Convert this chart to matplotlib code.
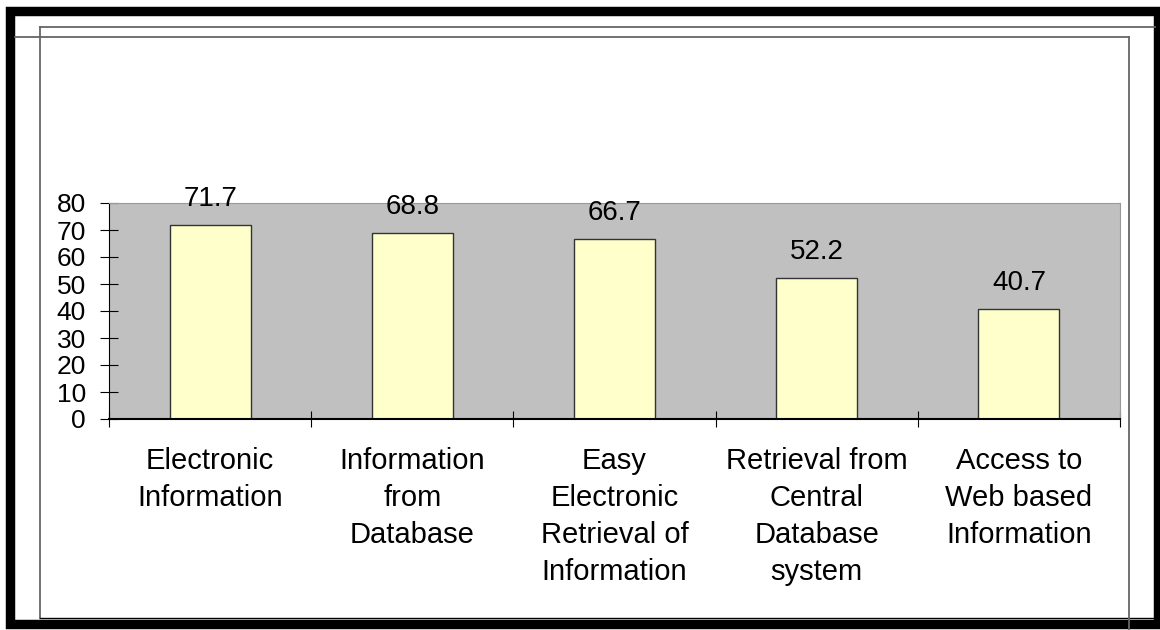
import matplotlib.pyplot as plt
from matplotlib.patches import Rectangle
import numpy as np

plt.rcParams['font.family'] = ['Liberation Sans', 'DejaVu Sans']

# --- data ---
categories = [
    "Electronic\nInformation",
    "Information\nfrom\nDatabase",
    "Easy\nElectronic\nRetrieval of\nInformation",
    "Retrieval from\nCentral\nDatabase\nsystem",
    "Access to\nWeb based\nInformation",
]
values = [71.7, 68.8, 66.7, 52.2, 40.7]
y_ticks = [0, 10, 20, 30, 40, 50, 60, 70, 80]

W, H = 1160, 630
fig = plt.figure(figsize=(W / 100, H / 100), dpi=100)

# --- frame lines drawn in pixel coords on a full-figure overlay ---
frame = fig.add_axes([0, 0, 1, 1], zorder=-1)
frame.set_xlim(0, W)
frame.set_ylim(H, 0)
frame.axis('off')
frame.add_patch(Rectangle((10, 11), 1148, 613, fill=False, edgecolor='black', linewidth=6.8))
frame.plot([40, 1155], [27, 27], color='#666666', lw=1.3)
frame.plot([40, 40], [27, 618], color='#666666', lw=1.3)
frame.plot([40, 1155], [618, 618], color='black', lw=1.0)
frame.plot([15, 1129], [37, 37], color='#666666', lw=1.3)
frame.plot([1129, 1129], [37, 630], color='#666666', lw=1.3)

# --- main chart ---
ax = fig.add_axes([109 / W, 1 - 419 / H, (1120 - 109) / W, (419 - 203) / H])
ax.set_facecolor('#C0C0C0')
x = np.arange(len(values))
bars = ax.bar(x, values, width=0.4, color='#FFFFCC', edgecolor='#333333', linewidth=1.0, zorder=2)

for xi, v in zip(x, values):
    ax.annotate(f"{v}", (xi, v), xytext=(0, 13), textcoords='offset pixels',
                ha='center', va='bottom', fontsize=20, clip_on=False)

ax.set_xlim(-0.5, len(values) - 0.5)
ax.set_ylim(0, 80)
ax.set_yticks(y_ticks)
ax.tick_params(axis='y', direction='inout', length=13, width=0.8, labelsize=19, pad=10)

# boundaries get tick marks, category centers get labels
ax.set_xticks(np.arange(len(values) + 1) - 0.5)
ax.set_xticklabels([])
ax.set_xticks(x, minor=True)
ax.set_xticklabels(categories, minor=True, fontsize=21, linespacing=1.42)
ax.tick_params(axis='x', which='major', direction='inout', length=12, width=0.8)
ax.tick_params(axis='x', which='minor', length=0, pad=20)

ax.spines['left'].set_color('black')
ax.spines['bottom'].set_color('black')
ax.spines['bottom'].set_linewidth(1.5)
ax.spines['top'].set_color('#999999')
ax.spines['right'].set_color('#999999')

fig.savefig('out.png', dpi=100)
